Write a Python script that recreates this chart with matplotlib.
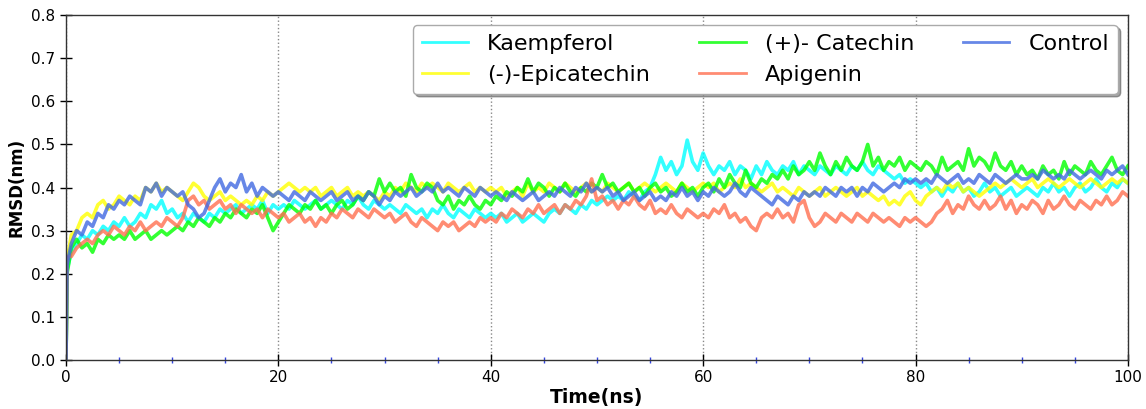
import numpy as np
import matplotlib
matplotlib.use("Agg")
import matplotlib.pyplot as plt
from matplotlib.ticker import MultipleLocator, FormatStrFormatter

# sampling times (ns): start point, first frame, then every 0.5 ns
time_ns = [0.0, 0.1] + [0.5 * i for i in range(1, 201)]

kaempferol = [0.0, 0.21,
    0.25, 0.27, 0.29, 0.28, 0.30, 0.29, 0.31, 0.30, 0.32, 0.31, 0.33, 0.31, 0.32, 0.34, 0.33, 0.36, 0.35, 0.37, 0.34, 0.35,
    0.33, 0.34, 0.32, 0.34, 0.33, 0.32, 0.34, 0.33, 0.35, 0.34, 0.35, 0.36, 0.34, 0.35, 0.36, 0.35, 0.37, 0.34, 0.36, 0.35,
    0.36, 0.35, 0.37, 0.36, 0.35, 0.36, 0.37, 0.35, 0.36, 0.37, 0.36, 0.35, 0.37, 0.36, 0.38, 0.36, 0.35, 0.37, 0.36, 0.35,
    0.36, 0.35, 0.34, 0.36, 0.35, 0.34, 0.35, 0.33, 0.35, 0.34, 0.36, 0.34, 0.33, 0.35, 0.34, 0.33, 0.35, 0.34, 0.33, 0.34,
    0.33, 0.34, 0.32, 0.33, 0.34, 0.32, 0.33, 0.34, 0.33, 0.32, 0.34, 0.35, 0.34, 0.36, 0.35, 0.34, 0.36, 0.35, 0.37, 0.36,
    0.37, 0.38, 0.37, 0.38, 0.37, 0.39, 0.38, 0.37, 0.39, 0.40, 0.43, 0.47, 0.44, 0.46, 0.43, 0.45, 0.51, 0.46, 0.44, 0.48,
    0.45, 0.43, 0.45, 0.44, 0.46, 0.43, 0.45, 0.44, 0.42, 0.45, 0.43, 0.46, 0.44, 0.43, 0.45, 0.44, 0.46, 0.43, 0.45, 0.44,
    0.43, 0.45, 0.44, 0.43, 0.45, 0.44, 0.43, 0.45, 0.44, 0.46, 0.44, 0.43, 0.45, 0.44, 0.43, 0.42, 0.43, 0.41, 0.42, 0.41,
    0.40, 0.41, 0.39, 0.40, 0.38, 0.40, 0.39, 0.41, 0.39, 0.40, 0.38, 0.39, 0.41, 0.39, 0.40, 0.38, 0.39, 0.40, 0.38, 0.39,
    0.40, 0.39, 0.38, 0.40, 0.39, 0.41, 0.39, 0.40, 0.38, 0.40, 0.41, 0.39, 0.40, 0.42, 0.40, 0.39, 0.41, 0.40, 0.42, 0.41]

epicatechin = [0.0, 0.23,
    0.29, 0.30, 0.33, 0.34, 0.33, 0.36, 0.37, 0.35, 0.36, 0.38, 0.37, 0.36, 0.38, 0.37, 0.40, 0.39, 0.41, 0.39, 0.40, 0.39,
    0.38, 0.37, 0.39, 0.41, 0.40, 0.38, 0.37, 0.38, 0.39, 0.37, 0.38, 0.37, 0.36, 0.37, 0.36, 0.38, 0.37, 0.39, 0.38, 0.39,
    0.40, 0.41, 0.40, 0.39, 0.40, 0.39, 0.40, 0.38, 0.39, 0.40, 0.38, 0.39, 0.40, 0.38, 0.39, 0.38, 0.39, 0.38, 0.37, 0.39,
    0.38, 0.40, 0.39, 0.41, 0.40, 0.39, 0.41, 0.40, 0.41, 0.40, 0.39, 0.41, 0.40, 0.39, 0.40, 0.41, 0.39, 0.40, 0.39, 0.40,
    0.39, 0.40, 0.38, 0.39, 0.40, 0.38, 0.41, 0.39, 0.40, 0.39, 0.41, 0.40, 0.39, 0.41, 0.40, 0.39, 0.40, 0.41, 0.39, 0.40,
    0.39, 0.41, 0.40, 0.39, 0.40, 0.41, 0.39, 0.40, 0.41, 0.40, 0.39, 0.40, 0.41, 0.40, 0.39, 0.41, 0.40, 0.39, 0.40, 0.41,
    0.40, 0.41, 0.39, 0.40, 0.41, 0.40, 0.42, 0.40, 0.41, 0.40, 0.39, 0.40, 0.41, 0.39, 0.40, 0.39, 0.38, 0.40, 0.39, 0.38,
    0.39, 0.40, 0.38, 0.39, 0.40, 0.39, 0.38, 0.39, 0.40, 0.38, 0.39, 0.38, 0.37, 0.38, 0.36, 0.37, 0.36, 0.38, 0.39, 0.37,
    0.36, 0.38, 0.39, 0.40, 0.39, 0.41, 0.40, 0.41, 0.39, 0.40, 0.39, 0.38, 0.39, 0.40, 0.41, 0.40, 0.41, 0.42, 0.41, 0.40,
    0.41, 0.42, 0.40, 0.41, 0.42, 0.41, 0.40, 0.41, 0.42, 0.41, 0.40, 0.41, 0.42, 0.41, 0.40, 0.41, 0.42, 0.41, 0.42, 0.41]

catechin = [0.0, 0.20,
    0.26, 0.28, 0.26, 0.27, 0.25, 0.28, 0.27, 0.29, 0.28, 0.29, 0.28, 0.30, 0.28, 0.29, 0.30, 0.28, 0.29, 0.30, 0.29, 0.30,
    0.31, 0.30, 0.32, 0.31, 0.33, 0.32, 0.31, 0.33, 0.32, 0.34, 0.33, 0.35, 0.34, 0.33, 0.35, 0.34, 0.36, 0.33, 0.30, 0.32,
    0.34, 0.36, 0.35, 0.34, 0.36, 0.35, 0.37, 0.35, 0.36, 0.34, 0.36, 0.37, 0.35, 0.36, 0.38, 0.37, 0.39, 0.38, 0.42, 0.39,
    0.41, 0.39, 0.40, 0.38, 0.43, 0.40, 0.39, 0.41, 0.40, 0.37, 0.36, 0.38, 0.35, 0.37, 0.36, 0.38, 0.36, 0.35, 0.37, 0.36,
    0.38, 0.37, 0.39, 0.38, 0.40, 0.39, 0.42, 0.39, 0.41, 0.40, 0.38, 0.40, 0.39, 0.41, 0.39, 0.38, 0.40, 0.39, 0.41, 0.40,
    0.43, 0.40, 0.41, 0.39, 0.40, 0.41, 0.39, 0.40, 0.38, 0.40, 0.41, 0.39, 0.40, 0.38, 0.39, 0.41, 0.39, 0.40, 0.38, 0.40,
    0.41, 0.39, 0.42, 0.40, 0.43, 0.41, 0.40, 0.44, 0.41, 0.40, 0.42, 0.41, 0.43, 0.42, 0.44, 0.42, 0.45, 0.43, 0.44, 0.46,
    0.44, 0.48, 0.45, 0.43, 0.46, 0.44, 0.47, 0.45, 0.44, 0.46, 0.50, 0.45, 0.47, 0.44, 0.46, 0.45, 0.47, 0.44, 0.46, 0.45,
    0.44, 0.46, 0.45, 0.43, 0.47, 0.44, 0.45, 0.46, 0.44, 0.49, 0.45, 0.47, 0.46, 0.44, 0.48, 0.45, 0.44, 0.46, 0.43, 0.45,
    0.43, 0.44, 0.42, 0.45, 0.43, 0.44, 0.42, 0.46, 0.43, 0.45, 0.44, 0.43, 0.46, 0.44, 0.43, 0.45, 0.47, 0.44, 0.43, 0.45]

apigenin = [0.0, 0.24,
    0.24, 0.26, 0.27, 0.28, 0.27, 0.29, 0.30, 0.29, 0.31, 0.30, 0.29, 0.31, 0.30, 0.32, 0.30, 0.31, 0.32, 0.31, 0.33, 0.32,
    0.31, 0.33, 0.37, 0.38, 0.36, 0.37, 0.35, 0.36, 0.37, 0.35, 0.36, 0.34, 0.36, 0.35, 0.34, 0.35, 0.33, 0.35, 0.34, 0.33,
    0.34, 0.32, 0.33, 0.34, 0.32, 0.33, 0.31, 0.33, 0.32, 0.34, 0.33, 0.35, 0.34, 0.33, 0.35, 0.34, 0.33, 0.35, 0.34, 0.33,
    0.34, 0.32, 0.33, 0.34, 0.32, 0.31, 0.33, 0.32, 0.31, 0.30, 0.32, 0.31, 0.32, 0.30, 0.31, 0.32, 0.31, 0.33, 0.32, 0.33,
    0.32, 0.34, 0.33, 0.35, 0.34, 0.33, 0.35, 0.34, 0.36, 0.34, 0.35, 0.36, 0.34, 0.36, 0.35, 0.37, 0.36, 0.38, 0.42, 0.37,
    0.38, 0.36, 0.37, 0.35, 0.37, 0.36, 0.38, 0.36, 0.35, 0.37, 0.34, 0.35, 0.34, 0.36, 0.34, 0.33, 0.35, 0.34, 0.33, 0.34,
    0.33, 0.35, 0.34, 0.36, 0.33, 0.34, 0.32, 0.33, 0.31, 0.30, 0.33, 0.34, 0.33, 0.35, 0.33, 0.34, 0.32, 0.36, 0.37, 0.33,
    0.31, 0.32, 0.34, 0.33, 0.32, 0.34, 0.33, 0.32, 0.34, 0.33, 0.32, 0.34, 0.33, 0.32, 0.33, 0.32, 0.31, 0.33, 0.32, 0.33,
    0.32, 0.31, 0.32, 0.34, 0.35, 0.37, 0.34, 0.36, 0.35, 0.38, 0.36, 0.35, 0.37, 0.35, 0.36, 0.38, 0.35, 0.37, 0.34, 0.36,
    0.35, 0.37, 0.36, 0.34, 0.37, 0.35, 0.36, 0.38, 0.36, 0.35, 0.37, 0.36, 0.35, 0.37, 0.36, 0.38, 0.36, 0.37, 0.39, 0.38]

control = [0.0, 0.22,
    0.27, 0.30, 0.29, 0.32, 0.31, 0.34, 0.33, 0.36, 0.35, 0.37, 0.36, 0.38, 0.37, 0.36, 0.40, 0.39, 0.41, 0.38, 0.40, 0.39,
    0.38, 0.39, 0.36, 0.35, 0.33, 0.34, 0.37, 0.40, 0.42, 0.39, 0.41, 0.40, 0.43, 0.39, 0.41, 0.38, 0.40, 0.39, 0.38, 0.39,
    0.38, 0.37, 0.39, 0.38, 0.37, 0.39, 0.38, 0.37, 0.38, 0.39, 0.37, 0.38, 0.39, 0.37, 0.38, 0.37, 0.39, 0.38, 0.36, 0.38,
    0.37, 0.39, 0.38, 0.39, 0.40, 0.38, 0.39, 0.40, 0.39, 0.41, 0.39, 0.40, 0.39, 0.38, 0.40, 0.39, 0.38, 0.40, 0.39, 0.38,
    0.39, 0.38, 0.37, 0.39, 0.38, 0.37, 0.38, 0.39, 0.37, 0.38, 0.39, 0.38, 0.40, 0.39, 0.38, 0.40, 0.39, 0.41, 0.39, 0.40,
    0.39, 0.40, 0.38, 0.39, 0.37, 0.38, 0.39, 0.37, 0.38, 0.39, 0.37, 0.38, 0.37, 0.39, 0.38, 0.40, 0.38, 0.39, 0.37, 0.39,
    0.38, 0.40, 0.39, 0.38, 0.39, 0.41, 0.39, 0.38, 0.40, 0.39, 0.38, 0.37, 0.36, 0.38, 0.37, 0.36, 0.38, 0.37, 0.39, 0.38,
    0.39, 0.38, 0.40, 0.39, 0.38, 0.40, 0.39, 0.40, 0.38, 0.40, 0.39, 0.41, 0.40, 0.39, 0.40, 0.41, 0.40, 0.42, 0.41, 0.42,
    0.41, 0.42, 0.41, 0.43, 0.42, 0.41, 0.42, 0.43, 0.41, 0.42, 0.41, 0.43, 0.42, 0.41, 0.43, 0.42, 0.41, 0.42, 0.43, 0.42,
    0.42, 0.43, 0.42, 0.44, 0.43, 0.42, 0.43, 0.42, 0.44, 0.43, 0.42, 0.43, 0.44, 0.43, 0.42, 0.44, 0.43, 0.44, 0.45, 0.43]

labels = ["Kaempferol", "(-)-Epicatechin", "(+)- Catechin", "Apigenin", "Control"]
colors = ["#00ffff", "#ffff00", "#00ff00", "#ff6f50", "#4169e1"]

fig = plt.figure(figsize=(11.46, 4.09), dpi=100)
ax = fig.add_axes([0.0576, 0.12, 0.9266, 0.843])

for series, name, c in zip([kaempferol, epicatechin, catechin, apigenin, control], labels, colors):
    ax.plot(time_ns, series, color=c, lw=2.6, alpha=0.8, label=name)

ax.set_xlim(0, 100)
ax.set_ylim(0, 0.8)
ax.xaxis.set_major_locator(MultipleLocator(20))
ax.xaxis.set_minor_locator(MultipleLocator(5))
ax.yaxis.set_major_locator(MultipleLocator(0.1))
ax.yaxis.set_major_formatter(FormatStrFormatter("%.1f"))

ax.tick_params(axis="both", which="major", direction="inout", length=8, width=1,
               labelsize=11, top=False, right=False)
ax.tick_params(axis="x", which="minor", direction="inout", length=4, width=1,
               color="#3344dd", top=False)
ax.grid(axis="x", which="major", linestyle=":", color="#888888", lw=1)

for sp in ax.spines.values():
    sp.set_color("#333333")
    sp.set_linewidth(1.0)

ax.set_xlabel("Time(ns)", fontsize=13.5, fontweight="bold", labelpad=2)
ax.set_ylabel("RMSD(nm)", fontsize=12, fontweight="bold", labelpad=4)

leg = ax.legend(loc="upper right", ncol=3, fontsize=16, shadow=True, fancybox=True,
                framealpha=1, edgecolor="#aaaaaa", borderaxespad=0.45,
                handlelength=2.1, handletextpad=0.85, columnspacing=2.2)
for h in leg.get_lines():
    h.set_linewidth(2.0)

fig.savefig("out.png", dpi=100)
